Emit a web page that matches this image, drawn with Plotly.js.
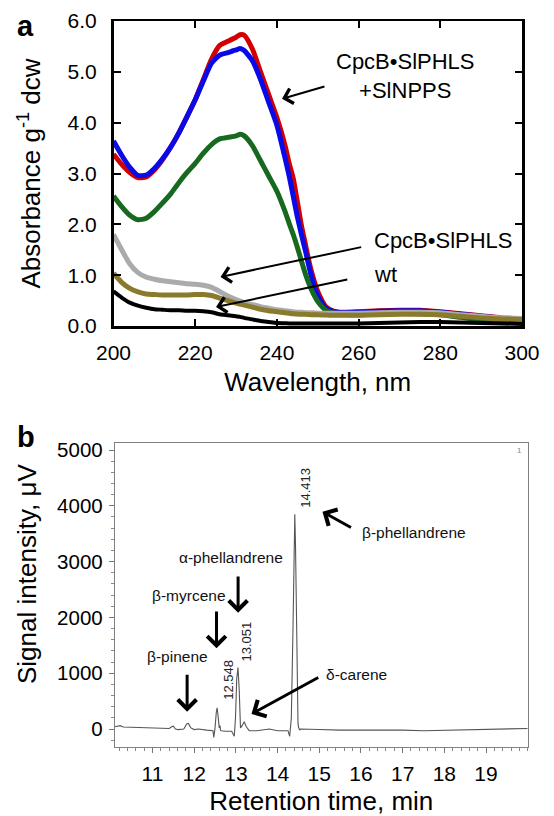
<!DOCTYPE html>
<html>
<head>
<meta charset="utf-8">
<script src="https://cdn.plot.ly/plotly-3.0.1.min.js"></script>
<style>html,body{margin:0;padding:0;background:#fff;}#chart{width:554px;height:816px;}</style>
</head>
<body>
<div id="chart"></div>
<script>
// ---------- Panel a: absorbance spectra ----------
const wavelength = [200,202,204,206,208,210,212,214,216,218,220,222,224,226,228,230,231,232,234,236,238,240,242,243,244,245,246,247,248,249,250,252,254,256,260,265,270,275,280,285,290,295,300];
const absRed   = [3.38,3.18,3.02,2.92,2.93,3.07,3.27,3.52,3.80,4.12,4.45,4.85,5.25,5.52,5.60,5.68,5.73,5.72,5.45,5.00,4.55,4.10,3.55,3.20,2.90,2.45,1.98,1.60,1.22,0.92,0.68,0.38,0.29,0.27,0.28,0.30,0.31,0.31,0.28,0.24,0.20,0.16,0.14];
const absBlue  = [3.64,3.36,3.12,2.96,2.97,3.10,3.29,3.52,3.80,4.12,4.45,4.82,5.17,5.33,5.38,5.43,5.46,5.42,5.22,4.85,4.40,3.95,3.30,2.95,2.55,2.15,1.80,1.47,1.12,0.82,0.60,0.35,0.28,0.26,0.27,0.29,0.30,0.30,0.27,0.23,0.19,0.15,0.13];
const absGreen = [2.56,2.35,2.18,2.09,2.12,2.25,2.42,2.60,2.82,3.02,3.20,3.40,3.57,3.68,3.71,3.74,3.77,3.74,3.55,3.25,2.95,2.65,2.25,2.02,1.80,1.55,1.28,1.02,0.80,0.62,0.48,0.31,0.25,0.23,0.22,0.24,0.25,0.24,0.22,0.17,0.12,0.10,0.10];
const absGrey  = [1.80,1.50,1.22,1.05,0.96,0.92,0.89,0.87,0.85,0.83,0.82,0.80,0.76,0.68,0.59,0.52,0.49,0.46,0.42,0.38,0.35,0.32,0.30,0.29,0.28,0.27,0.27,0.26,0.26,0.26,0.25,0.25,0.25,0.25,0.25,0.26,0.27,0.27,0.26,0.22,0.19,0.16,0.15];
const absOlive = [1.04,0.86,0.74,0.67,0.63,0.62,0.61,0.61,0.61,0.61,0.62,0.62,0.60,0.55,0.50,0.45,0.43,0.41,0.37,0.33,0.30,0.28,0.26,0.25,0.24,0.235,0.23,0.23,0.225,0.22,0.22,0.215,0.21,0.21,0.21,0.22,0.23,0.23,0.22,0.19,0.16,0.14,0.13];
const absBlack = [0.68,0.56,0.46,0.40,0.36,0.33,0.32,0.31,0.31,0.30,0.30,0.29,0.27,0.23,0.21,0.19,0.18,0.16,0.13,0.10,0.08,0.06,0.055,0.05,0.05,0.05,0.05,0.05,0.05,0.05,0.05,0.05,0.05,0.05,0.05,0.06,0.07,0.08,0.08,0.07,0.06,0.05,0.04];
const xTicksA = [200,220,240,260,280,300];
const yTicksA = [0,1,2,3,4,5,6];

// ---------- Panel b: chromatogram ----------
const retTime = [10.10,10.15,10.22,10.30,10.50,10.80,11.10,11.40,11.46,11.50,11.55,11.62,11.75,11.82,11.86,11.92,12.00,12.10,12.30,12.45,12.47,12.48,12.50,12.53,12.55,12.57,12.60,12.62,12.63,12.65,12.75,12.90,12.96,12.97,12.99,13.02,13.05,13.08,13.11,13.15,13.20,13.25,13.32,13.50,13.80,14.00,14.25,14.29,14.30,14.33,14.37,14.395,14.413,14.43,14.455,14.49,14.50,14.53,14.55,14.70,15.00,15.50,16.00,16.50,17.00,17.50,18.00,18.50,19.00,19.50,20.00];
const signal  = [40,45,60,35,30,20,10,10,40,50,0,-10,0,90,100,20,-10,0,-20,-30,-150,-30,20,300,380,250,20,60,-20,-30,-40,-40,-130,-40,200,900,1100,700,20,60,130,40,-30,-30,0,-30,-30,-130,-20,200,1800,3200,3850,3300,1500,100,40,-20,0,0,-10,-20,-20,-10,-20,-30,-20,-20,-10,0,10];
const xTicksB = [11,12,13,14,15,16,17,18,19];
const yTicksB = [0,1000,2000,3000,4000,5000];

const FONT = 'Liberation Sans, Arial, Helvetica, sans-serif';
const lineA = (y, color, w) => ({x: wavelength, y: y, type: 'scatter', mode: 'lines',
  line: {color: color, width: w, shape: 'spline', smoothing: 0.6}, xaxis: 'x', yaxis: 'y', hoverinfo: 'skip'});

const traces = [
  lineA(absRed, '#d20000', 5),
  lineA(absBlue, '#0a0ae6', 5),
  lineA(absGreen, '#17691f', 5),
  lineA(absGrey, '#ababab', 5),
  lineA(absOlive, '#8a7a2c', 5),
  lineA(absBlack, '#000000', 4),
  {x: retTime, y: signal, type: 'scatter', mode: 'lines', line: {color: '#555555', width: 1.1},
   xaxis: 'x2', yaxis: 'y2', hoverinfo: 'skip'}
];

const arrowA = (hx, hy, tx, ty) => ({x: hx, y: hy, ax: tx, ay: ty, xref: 'x', yref: 'y', axref: 'x', ayref: 'y',
  text: '', showarrow: true, arrowhead: 4, arrowsize: 1.5, arrowwidth: 2, arrowcolor: '#000'});
const arrowB = (hx, hy, tx, ty) => ({x: hx, y: hy, ax: tx, ay: ty, xref: 'x2', yref: 'y2', axref: 'x2', ayref: 'y2',
  text: '', showarrow: true, arrowhead: 4, arrowsize: 1.2, arrowwidth: 3, arrowcolor: '#000'});
const labelB = (x, y, text, anchor) => ({x: x, y: y, xref: 'x2', yref: 'y2', text: text, showarrow: false,
  xanchor: anchor, yanchor: 'middle', font: {family: FONT, size: 15.5, color: '#111'}});
const peakB = (x, y, text) => ({x: x, y: y, xref: 'x2', yref: 'y2', text: text, showarrow: false, textangle: -90,
  xanchor: 'center', yanchor: 'middle', font: {family: FONT, size: 13, color: '#222'}});

const annotations = [
  {x: 25, y: 26, xref: 'paper', yref: 'paper', text: '<b>a</b>', showarrow: false},
  // panel a labels
  {x: 271.5, y: 4.91, xref: 'x', yref: 'y', text: 'CpcB•SlPHLS<br>+SlNPPS', showarrow: false, align: 'center',
   xanchor: 'center', yanchor: 'middle', font: {family: FONT, size: 22, color: '#000'}},
  {x: 263.2, y: 1.69, xref: 'x', yref: 'y', text: 'CpcB•SlPHLS', showarrow: false, xanchor: 'left', yanchor: 'middle',
   font: {family: FONT, size: 22, color: '#000'}},
  {x: 263.2, y: 1.02, xref: 'x', yref: 'y', text: 'wt', showarrow: false, xanchor: 'left', yanchor: 'middle',
   font: {family: FONT, size: 22, color: '#000'}},
  arrowA(241.25, 4.47, 252.0, 4.72),
  arrowA(226.2, 0.966, 261.0, 1.558),
  arrowA(225.1, 0.374, 257.6, 0.919),
  // panel b labels
  labelB(15.97, 3530, 'β-phellandrene', 'left'),
  labelB(12.878, 3077, 'α-phellandrene', 'center'),
  labelB(11.866, 2384, 'β-myrcene', 'center'),
  labelB(11.607, 1308, 'β-pinene', 'center'),
  labelB(15.108, 980, 'δ-carene', 'left'),
  peakB(14.652, 4319, '14.413'),
  peakB(12.806, 878, '12.548'),
  peakB(13.254, 1577, '13.051'),
  arrowB(15.077, 3894, 15.796, 3597),
  arrowB(13.053, 2084, 13.053, 2760),
  arrowB(12.535, 1446, 12.535, 2133),
  arrowB(11.830, 310, 11.830, 998),
  arrowB(13.374, 269, 15.012, 937),
  {x: 524, y: 450, xref: 'paper', yref: 'paper', text: '1', showarrow: false, font: {family: FONT, size: 8, color: '#888'}},
  {x: 27, y: 574, xref: 'paper', yref: 'paper', text: 'Signal intensity, μV', textangle: -90, showarrow: false,
   xanchor: 'center', yanchor: 'middle', font: {family: FONT, size: 26, color: '#000'}},
  {x: 26, y: 437, xref: 'paper', yref: 'paper', text: '<b>b</b>', showarrow: false}
];
// convert pixel-placed paper annotations (top-left origin) to paper fractions
const W = 554, H = 816;
annotations.forEach(a => {
  if (a.xref === 'paper') { a.x = a.x / W; a.y = 1 - a.y / H; }
  if (a.text === '<b>a</b>' || a.text === '<b>b</b>') {
    a.font = {family: FONT, size: 29, color: '#000'}; a.xanchor = 'center'; a.yanchor = 'middle';
  }
});

const layout = {
  width: W, height: H,
  margin: {l: 0, r: 0, t: 0, b: 0},
  paper_bgcolor: '#fff', plot_bgcolor: '#fff',
  showlegend: false,
  font: {family: FONT, color: '#000'},
  xaxis: {
    domain: [113.5 / W, 522 / W], anchor: 'y', range: [200, 300],
    tickvals: xTicksA, ticktext: xTicksA.map(String),
    ticks: 'inside', ticklen: 7, tickwidth: 2, tickcolor: '#000',
    showline: true, linewidth: 2.5, linecolor: '#000', mirror: 'ticks',
    showgrid: false, zeroline: false, ticklabelstandoff: 6,
    tickfont: {family: FONT, size: 21, color: '#000'},
    title: {text: 'Wavelength, nm', font: {family: FONT, size: 26, color: '#000'}, standoff: 10}
  },
  yaxis: {
    domain: [1 - 326 / H, 1 - 21 / H], anchor: 'x', range: [0, 6],
    tickvals: yTicksA, ticktext: yTicksA.map(v => v.toFixed(1)),
    ticks: 'inside', ticklen: 7, tickwidth: 2, tickcolor: '#000',
    showline: true, linewidth: 2.5, linecolor: '#000', mirror: 'ticks',
    showgrid: false, zeroline: false, ticklabelstandoff: 10,
    tickfont: {family: FONT, size: 21, color: '#000'},
    title: {text: 'Absorbance g<sup>-1</sup> dcw', font: {family: FONT, size: 26, color: '#000'}, standoff: 20}
  },
  xaxis2: {
    domain: [115 / W, 527.7 / W], anchor: 'y2', range: [10.1, 20.0],
    tickvals: xTicksB, ticktext: xTicksB.map(String),
    ticks: 'outside', ticklen: 5, tickwidth: 1, tickcolor: '#777',
    minor: {dtick: 0.2, tick0: 0, ticks: 'outside', ticklen: 3, tickwidth: 1, tickcolor: '#888'},
    showline: true, linewidth: 1.2, linecolor: '#808080', mirror: true,
    showgrid: false, zeroline: false, ticklabelstandoff: 3,
    tickfont: {family: FONT, size: 21, color: '#000'},
    title: {text: 'Retention time, min', font: {family: FONT, size: 26, color: '#000'}, standoff: 8}
  },
  yaxis2: {
    domain: [1 - 746.7 / H, 1 - 443.3 / H], anchor: 'x2', range: [-317, 5120],
    tickvals: yTicksB, ticktext: yTicksB.map(String),
    ticks: 'outside', ticklen: 5, tickwidth: 1, tickcolor: '#777',
    minor: {dtick: 200, tick0: 0, ticks: 'outside', ticklen: 3, tickwidth: 1, tickcolor: '#888'},
    showline: true, linewidth: 1.2, linecolor: '#808080', mirror: true,
    showgrid: false, zeroline: false, ticklabelstandoff: 2,
    tickfont: {family: FONT, size: 20.5, color: '#000'}
  },
  annotations: annotations
};

Plotly.newPlot('chart', traces, layout, {staticPlot: true, displayModeBar: false});
</script>
</body>
</html>
